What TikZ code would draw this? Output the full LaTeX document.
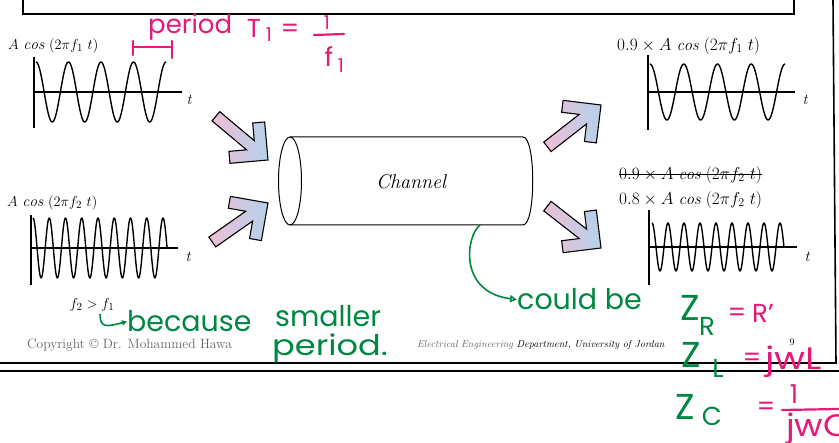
\documentclass[tikz,border=0pt]{standalone}
\usepackage{fontspec}
\newfontfamily\hand{Poppins}
\usetikzlibrary{arrows.meta}
\definecolor{hpink}{RGB}{232,24,120}
\definecolor{hgreen}{RGB}{0,135,65}
\definecolor{apink}{RGB}{238,190,210}
\definecolor{ayellow}{RGB}{242,232,170}
\definecolor{ablue}{RGB}{180,210,236}
\newcommand\fatarr[2]{%
  \begin{scope}[shift={#1}, rotate=#2]
    \path[fatarrow] (0,0) -- (-27,27) -- (-35.49,18.51) -- (-22.97,6) -- (-68,6) -- (-68,-6)
      -- (-22.97,-6) -- (-35.49,-18.51) -- (-27,-27) -- cycle;
  \end{scope}}
\begin{document}
\begin{tikzpicture}[x=1pt,y=-1pt,
  frameline/.style={line width=1.6pt},
  axisline/.style={line width=1.1pt},
  wave/.style={line width=1.4pt, line join=round},
  lbl/.style={font=\fontsize{15.5}{17}\selectfont, inner sep=0pt},
  lblb/.style={font=\fontsize{16.5}{18}\selectfont, inner sep=0pt},
  tlbl/.style={font=\fontsize{15}{17}\selectfont\itshape, inner sep=0pt},
  foot/.style={font=\fontsize{13.5}{15}\selectfont, inner sep=0pt},
  footb/.style={font=\fontsize{10}{12}\selectfont, inner sep=0pt},
  pinkhand/.style={text=hpink, font=\hand\fontsize{26}{28}\selectfont, inner sep=0pt},
  pinkbig/.style={text=hpink, font=\hand\fontsize{31}{33}\selectfont, inner sep=0pt},
  pinksmall/.style={text=hpink, font=\hand\fontsize{19}{21}\selectfont, inner sep=0pt},
  greenhand/.style={text=hgreen, font=\hand\fontsize{28.5}{30}\selectfont, inner sep=0pt},
  greenZ/.style={text=hgreen, font=\hand\fontsize{36}{38}\selectfont, inner sep=0pt},
  greensub/.style={text=hgreen, font=\hand\fontsize{26}{28}\selectfont, inner sep=0pt},
  fatarrow/.style={draw=black, line width=1.1pt, line join=miter, left color=apink, middle color=ayellow, right color=ablue},
  pinkline/.style={draw=hpink, line width=2.2pt, line cap=round},
  greenline/.style={draw=hgreen, line width=1.6pt}
]
\useasboundingbox (0,0) rectangle (839,443);
\fill[white] (0,0) rectangle (839,443);

% frame
\draw[frameline] (23,0) -- (23,14) -- (794,14) -- (794,0);
\draw[frameline] (833,0) -- (836,363) -- (0,363);
\draw[line width=2.6pt] (0,371) -- (839,371);

% wave 1
\node[lbl, anchor=west] (l1) at (8,46) {$A\ \mathit{cos}\ (2\pi f_1\ t)$};
\draw[axisline] (34,57) -- (34,128);
\draw[axisline] (34,92) -- (182,92);
\node[tlbl] (t1) at (189,100) {t};
\draw[wave] plot[domain=36:166, samples=160] (\x,{92-30*cos(11.0769*(\x-36))});

% period bracket
\draw[pinkline] (133,47) -- (172,47);
\draw[pinkline] (133,41) -- (133,55);
\draw[pinkline] (172,41) -- (172,58);
\node[pinkhand, anchor=base west] (per) at (148,34) {period};
\node[pinkhand] (T1) at (254,28) {T};
\node[pinksmall] (T1s) at (269,35) {1};
\node[pinkhand] (eq1) at (290,31) {=};
\node[pinksmall] (num1) at (327,23) {1};
\draw[pinkline] (314,35) -- (344,34);
\node[pinkhand] (f1) at (329,57) {f};
\node[pinksmall] (f1s) at (341,66) {1};

% wave 2
\node[lbl, anchor=west] (l2) at (7,203) {$A\ \mathit{cos}\ (2\pi f_2\ t)$};
\draw[axisline] (31,215) -- (31,285);
\draw[axisline] (31,248) -- (178,248);
\node[tlbl] (t2) at (188,257) {t};
\draw[wave] plot[domain=33:167, samples=260] (\x,{248-30*cos(22.1538*(\x-33))});
\node[lbl] (ff) at (92,305) {$f_2>f_1$};

% arrows
\fatarr{(268,160)}{-40}
\fatarr{(268,203)}{35}
\fatarr{(601,105)}{38}
\fatarr{(601,248)}{-38}

% channel
\draw[line width=1pt] (290,181) ellipse [x radius=11.5pt, y radius=44pt];
\draw[line width=1pt] (290,137) -- (523,137) .. controls (536,137) and (536,225) .. (523,225) -- (290,225);
\node[font=\fontsize{20}{22}\selectfont\itshape] (chan) at (411,182) {Channel};
\coordinate (cylb) at (480,225);

% wave 3
\node[lblb, anchor=west] (l3) at (617,46) {$0.9\times A\ \mathit{cos}\ (2\pi f_1\ t)$};
\draw[axisline] (648,55) -- (648,130);
\draw[axisline] (648,92) -- (795,92);
\node[tlbl] (t3) at (805,100) {t};
\draw[wave] plot[domain=650:785, samples=160] (\x,{92-28*cos(10.6667*(\x-650))});

% wave 4
\node[lblb, anchor=west] (l4s) at (619,175) {$0.9\times A\ \mathit{cos}\ (2\pi f_2\ t)$};
\draw[line width=1pt] (l4s.west) -- (l4s.east);
\node[lblb, anchor=west] (l4) at (619,200) {$0.8\times A\ \mathit{cos}\ (2\pi f_2\ t)$};
\draw[axisline] (649,210) -- (649,285);
\draw[axisline] (649,247) -- (797,247);
\node[tlbl] (t4) at (807,257) {t};
\draw[wave] plot[domain=652:784, samples=260] (\x,{247-24*cos(22.5*(\x-652))});

% footer
\node[foot, anchor=west, text=black!60] (copy) at (27,345) {Copyright © Dr. Mohammed Hawa};
\node[footb, anchor=west] (dept) at (417,345) {\textit{\textcolor{black!60}{Electrical Engineering} Department, University of Jordan}};
\node[footb] (pg) at (792,342) {9};

% green annotations
\node[greenhand, anchor=base west] (could) at (517,310) {could be};
\draw[greenline, -{Triangle[open, length=7pt, width=7pt]}] (cylb) .. controls (466,236) and (458,292) .. (could.west);
\coordinate (hk) at (100,314);
\node[greenhand, anchor=base west] (bec) at (127,332) {because};
\draw[greenline, -{Triangle[length=5pt, width=5pt]}] (hk) .. controls (100,328) and (106,327) .. (bec.west);
\node[greenhand, anchor=base west] (sm) at (275,327) {smaller};
\node[greenhand, anchor=base west] (pd) at (272,356) {\scalebox{1.18}[1]{period.}};

% impedances
\node[greenZ, anchor=base] (ZR) at (690,321) {Z};
\node[greensub, anchor=base] (ZRs) at (707,336) {R};
\node[pinkhand] (eqR) at (737,315) {=};
\node[pinkhand, anchor=base west] (Rp) at (752,323) {R’};
\node[greenZ, anchor=base] (ZL) at (691,368) {Z};
\node[greensub, anchor=base] (ZLs) at (718,378) {L};
\node[pinkhand] (eqL) at (752,360) {=};
\node[pinkbig, anchor=base west] (jwL) at (765,370) {\scalebox{1.22}[1]{jwL}};
\node[greenZ, anchor=base] (ZC) at (685,420) {Z};
\node[greensub, anchor=base] (ZCs) at (712,426) {C};
\node[pinkhand] (eqC) at (766,409) {=};
\node[pinkhand] (numC) at (794,394) {1};
\draw[pinkline] (782,410) -- (839,409);
\node[pinkbig, anchor=base west] (jwC) at (786,437) {\scalebox{1.12}[1]{jwC}};
\end{tikzpicture}
\end{document}
